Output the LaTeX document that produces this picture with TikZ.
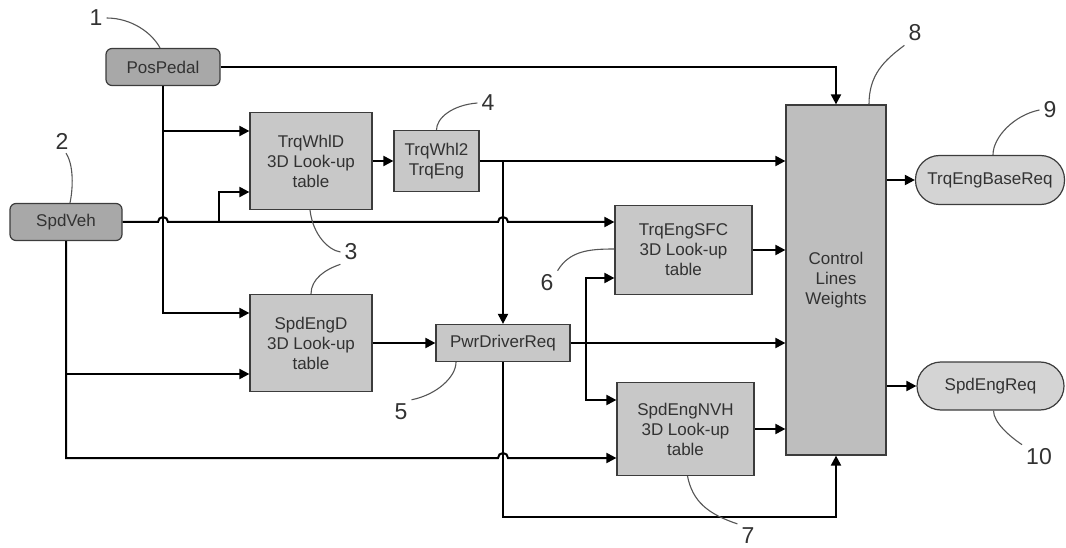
\documentclass[tikz,border=0pt]{standalone}
\usepackage{fontspec}
\setmainfont{Liberation Sans}
\usetikzlibrary{arrows.meta}
\definecolor{inputgray}{RGB}{168,168,168}
\definecolor{tablegray}{RGB}{200,200,200}
\definecolor{ctrlgray}{RGB}{190,190,190}
\definecolor{outgray}{RGB}{212,212,212}
\definecolor{edgegray}{RGB}{60,60,60}
\definecolor{textgray}{RGB}{50,50,50}
\definecolor{leadergray}{RGB}{85,85,85}
\begin{document}
\begin{tikzpicture}[x=1pt, y=-1pt,
  blockbox/.style={draw=edgegray, line width=1.2pt, fill=tablegray, text=textgray,
    font=\fontsize{17}{20}\selectfont, align=center, inner sep=0pt},
  inbox/.style={blockbox, fill=inputgray, rounded corners=6pt},
  outbox/.style={blockbox, fill=outgray, rounded corners=24pt},
  wire/.style={line width=2pt},
  sig/.style={wire, -{Triangle[length=10pt,width=10pt]}},
  leader/.style={draw=leadergray, line width=1.1pt},
  tag/.style={text=textgray, font=\fontsize{23}{26}\selectfont, inner sep=4pt}]
% Canvas in pixels of the original sheet
\def\jumpr{5}
\useasboundingbox (0,0) rectangle (1066,548);
% Inputs
\node[inbox, minimum width=114pt, minimum height=37pt] (pospedal) at (163,67) {PosPedal};
\node[inbox, minimum width=112pt, minimum height=37pt] (spdveh) at (66,222) {SpdVeh};
% Look-up tables and blocks
\node[blockbox, minimum width=122pt, minimum height=97pt] (trqwhld) at (311,161) {TrqWhlD\\3D Look-up\\table};
\node[blockbox, minimum width=85pt, minimum height=61pt] (trqwhl2) at (436.5,161) {TrqWhl2\\TrqEng};
\node[blockbox, minimum width=137pt, minimum height=89pt] (trqengsfc) at (683.5,250) {TrqEngSFC\\3D Look-up\\table};
\node[blockbox, minimum width=122pt, minimum height=97pt] (spdengd) at (311,343) {SpdEngD\\3D Look-up\\table};
\node[blockbox, minimum width=134pt, minimum height=37pt] (pwrdrv) at (503,343) {PwrDriverReq};
\node[blockbox, minimum width=137pt, minimum height=93pt] (spdengnvh) at (685.5,429) {SpdEngNVH\\3D Look-up\\table};
\node[blockbox, fill=ctrlgray, minimum width=100pt, minimum height=350pt] (ctrl) at (836,280) {Control\\Lines\\Weights};
% Outputs
\node[outbox, minimum width=149pt, minimum height=49pt] (trqbase) at (990,180) {TrqEngBaseReq};
\node[outbox, minimum width=147pt, minimum height=48pt] (spdengreq) at (990.5,386) {SpdEngReq};
% Input ports
\coordinate (wd1) at ([yshift=30pt]trqwhld.west);
\coordinate (wd2) at ([yshift=-31pt]trqwhld.west);
\coordinate (sd1) at ([yshift=30pt]spdengd.west);
\coordinate (sd2) at ([yshift=-31pt]spdengd.west);
\coordinate (se1) at ([yshift=28pt]trqengsfc.west);
\coordinate (se2) at ([yshift=-28pt]trqengsfc.west);
\coordinate (nv1) at ([yshift=29pt]spdengnvh.west);
\coordinate (nv2) at ([yshift=-29pt]spdengnvh.west);
% Branch points
\coordinate (svbr) at (219,222);
\coordinate (tqbr) at (trqwhl2.east -| pwrdrv.north);
\coordinate (pwbr) at ([xshift=15pt]pwrdrv.east);
% PosPedal lines
\draw[sig] (pospedal.east) -| (ctrl.north);
\draw[sig] (pospedal.south) |- (sd1);
\draw[sig] (pospedal.south |- wd1) -- (wd1);
% SpdVeh lines, with jumps over crossing wires
\draw[sig] (spdveh.east) -- (158,222) arc[start angle=180, end angle=360, radius=\jumpr]
  -- (498,222) arc[start angle=180, end angle=360, radius=\jumpr] -- (se1);
\draw[sig] (svbr) |- (wd2);
\draw[sig] (spdveh.south) |- (498,458) arc[start angle=180, end angle=360, radius=\jumpr] -- (nv2);
\draw[sig] (spdveh.south |- sd2) -- (sd2);
% Block to block
\draw[sig] (trqwhld.east) -- (trqwhl2.west);
\draw[sig] (trqwhl2.east) -- (trqwhl2.east -| ctrl.west);
\draw[sig] (tqbr) -- (pwrdrv.north);
\draw[sig] (spdengd.east) -- (pwrdrv.west);
\draw[sig] (pwrdrv.east) -- (pwrdrv.east -| ctrl.west);
\draw[sig] (pwbr) |- (se2);
\draw[sig] (pwbr) |- (nv1);
\draw[sig] (trqengsfc.east) -- (trqengsfc.east -| ctrl.west);
\draw[sig] (spdengnvh.east) -- (spdengnvh.east -| ctrl.west);
\draw[sig] (pwrdrv.south) -- (pwrdrv.south |- 0,517) -| (ctrl.south);
% Outputs
\draw[sig] (ctrl.east |- trqbase) -- (trqbase.west);
\draw[sig] (ctrl.east |- spdengreq) -- (spdengreq.west);
% Reference numbers
\node[tag] (n1) at (96,18) {1};
\node[tag] (n2) at (62,141) {2};
\node[tag] (n3) at (351,252) {3};
\node[tag] (n4) at (488,103) {4};
\node[tag] (n5) at (401,412) {5};
\node[tag] (n6) at (547,283) {6};
\node[tag] (n7) at (748,536) {7};
\node[tag] (n8) at (915,33) {8};
\node[tag] (n9) at (1050,110) {9};
\node[tag] (n10) at (1039,457) {10};
% Leader curves
\draw[leader] (n1.east) .. controls +(25,0) and +(-8,-15) .. ([xshift=-3pt]pospedal.north);
\draw[leader] ([xshift=4pt]n2.south) .. controls +(8,12) and +(3,-14) .. ([xshift=4pt]spdveh.north);
\draw[leader] ([xshift=-1pt]trqwhld.south) .. controls +(3,25) and +(-12,-2) .. (n3.west);
\draw[leader] (n3.south west) .. controls +(-15,5) and +(0,-15) .. (spdengd.north);
\draw[leader] (n4.west) .. controls +(-25,2) and +(0,-12) .. (trqwhl2.north);
\draw[leader] (n5.north east) .. controls +(25,-5) and +(0,15) .. ([xshift=-47pt]pwrdrv.south);
\draw[leader] (n6.north east) .. controls +(12,-20) and +(-25,0) .. ([yshift=1pt]trqengsfc.west);
\draw[leader] (n7.north west) .. controls +(-30,-10) and +(5,25) .. ([xshift=2pt]spdengnvh.south);
\draw[leader] (n8.south west) .. controls +(-20,15) and +(0,-30) .. ([xshift=33pt]ctrl.north);
\draw[leader] (n9.west) .. controls +(-25,5) and +(0,-18) .. ([xshift=3pt]trqbase.north);
\draw[leader] (n10.north west) .. controls +(-12,-8) and +(0,12) .. ([xshift=3pt]spdengreq.south);
\end{tikzpicture}
\end{document}
